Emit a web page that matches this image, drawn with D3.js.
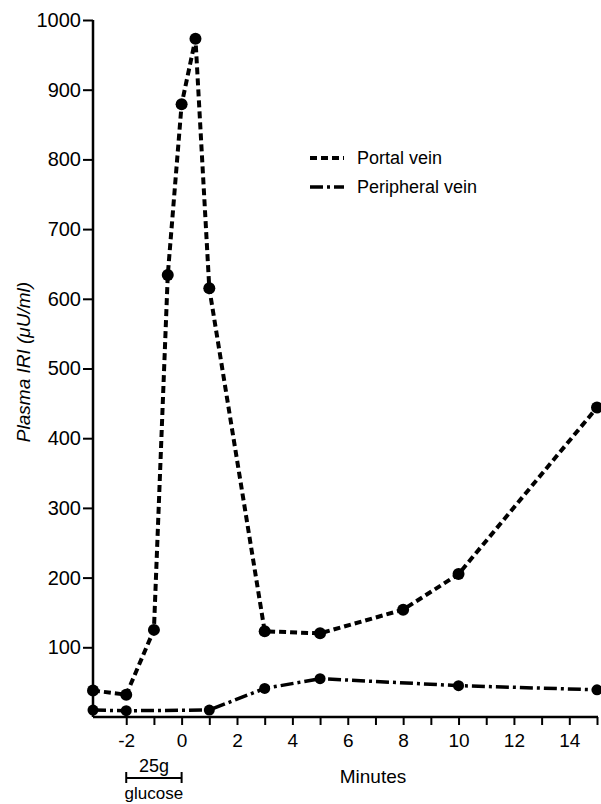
<!DOCTYPE html>
<html>
<head>
<meta charset="utf-8">
<script src="https://cdn.jsdelivr.net/npm/d3@7"></script>
<style>
  html, body { margin: 0; padding: 0; background: #fff; }
  svg { display: block; }
  text { font-family: "Liberation Sans", Arial, sans-serif; fill: #000; }
</style>
</head>
<body>
<svg id="chart" width="601" height="804"></svg>
<script>
// ---- Data ----
const portalMinutes = [-3.2, -2, -1, -0.5, 0, 0.5, 1, 3, 5, 8, 10, 15];
const portalIRI     = [38, 32, 125, 634, 879, 973, 615, 123, 120, 154, 205, 444];
const peripheralMinutes = [-3.2, -2, 1, 3, 5, 10, 15];
const peripheralIRI     = [10, 9, 10, 41, 55, 45, 39];
const yTickValues = [100, 200, 300, 400, 500, 600, 700, 800, 900, 1000];
const xTickValues = [-2, -1, 0, 1, 2, 3, 4, 5, 6, 7, 8, 9, 10, 11, 12, 13, 14, 15];
const xTickLabels = [-2, 0, 2, 4, 6, 8, 10, 12, 14];
const seriesNames = ["Portal vein", "Peripheral vein"];
const glucoseStart = -2, glucoseEnd = 0;

// ---- Layout ----
const svg = d3.select("#chart");
const x = d3.scaleLinear().domain([-3.2, 15]).range([93, 597]);
const y = d3.scaleLinear().domain([0, 1000]).range([717, 20]);

const portalDash = "7,4";
const periphDash = "13,4,3,4";

// Y axis
const yAxis = d3.axisLeft(y).tickValues(yTickValues).tickSize(10).tickSizeOuter(0).tickPadding(2)
  .tickFormat(d3.format("d"));
const gy = svg.append("g").attr("transform", `translate(${x(-3.2)},0)`).call(yAxis);
gy.select(".domain").attr("stroke", "#000").attr("stroke-width", 2.5)
  .attr("d", `M0,${y(0)}V${y(1000)}`);
gy.selectAll(".tick line").attr("stroke", "#000").attr("stroke-width", 2);
gy.selectAll(".tick text").style("font-size", "20px").attr("fill", "#000");

// X axis
const xAxis = d3.axisBottom(x).tickValues(xTickValues).tickSize(8).tickSizeOuter(0).tickPadding(9)
  .tickFormat(d => xTickLabels.includes(d) ? String(d).replace("−", "-") : "");
const gx = svg.append("g").attr("transform", `translate(0,${y(0)})`).call(xAxis);
gx.select(".domain").attr("stroke", "#000").attr("stroke-width", 2.5)
  .attr("d", `M${x(-3.2)},0H${x(15) + 1}`);
gx.selectAll(".tick line").attr("stroke", "#000").attr("stroke-width", 2);
gx.selectAll(".tick text").style("font-size", "19px").attr("fill", "#000");

// Axis titles
svg.append("text")
  .attr("transform", `translate(30,362) rotate(-90)`)
  .attr("text-anchor", "middle")
  .style("font-size", "19px").style("font-style", "italic")
  .text("Plasma IRI (μU/ml)");

svg.append("text")
  .attr("x", 373).attr("y", 783)
  .attr("text-anchor", "middle")
  .style("font-size", "19px")
  .text("Minutes");

// Glucose bracket
const by = 778;
svg.append("line").attr("x1", x(glucoseStart)).attr("x2", x(glucoseEnd))
  .attr("y1", by).attr("y2", by).attr("stroke", "#000").attr("stroke-width", 2);
[glucoseStart, glucoseEnd].forEach(v => {
  svg.append("line").attr("x1", x(v)).attr("x2", x(v))
    .attr("y1", by - 6).attr("y2", by + 5).attr("stroke", "#000").attr("stroke-width", 2);
});
svg.append("text").attr("x", (x(glucoseStart) + x(glucoseEnd)) / 2).attr("y", 772)
  .attr("text-anchor", "middle").style("font-size", "18px").text("25g");
svg.append("text").attr("x", (x(glucoseStart) + x(glucoseEnd)) / 2).attr("y", 799)
  .attr("text-anchor", "middle").style("font-size", "17px").text("glucose");

// Lines
const line = d3.line().x(d => x(d[0])).y(d => y(d[1]));
const portalData = portalMinutes.map((m, i) => [m, portalIRI[i]]);
const periphData = peripheralMinutes.map((m, i) => [m, peripheralIRI[i]]);

svg.append("path").datum(periphData).attr("d", line)
  .attr("fill", "none").attr("stroke", "#000").attr("stroke-width", 3.5)
  .attr("stroke-dasharray", periphDash);
svg.append("path").datum(portalData).attr("d", line)
  .attr("fill", "none").attr("stroke", "#000").attr("stroke-width", 4)
  .attr("stroke-dasharray", portalDash);

svg.append("g").selectAll("circle").data(periphData).join("circle")
  .attr("cx", d => x(d[0])).attr("cy", d => y(d[1])).attr("r", 5.5).attr("fill", "#000");
svg.append("g").selectAll("circle").data(portalData).join("circle")
  .attr("cx", d => x(d[0])).attr("cy", d => y(d[1])).attr("r", 6).attr("fill", "#000");

// Legend
const legend = svg.append("g");
const legendItems = [
  { name: seriesNames[0], dash: portalDash, w: 4, y: 158 },
  { name: seriesNames[1], dash: periphDash, w: 3.5, y: 187 }
];
legendItems.forEach(it => {
  legend.append("line").attr("x1", 310).attr("x2", 344).attr("y1", it.y).attr("y2", it.y)
    .attr("stroke", "#000").attr("stroke-width", it.w).attr("stroke-dasharray", it.dash);
  legend.append("text").attr("x", 357).attr("y", it.y + 6)
    .style("font-size", "18px").text(it.name);
});
</script>
</body>
</html>
